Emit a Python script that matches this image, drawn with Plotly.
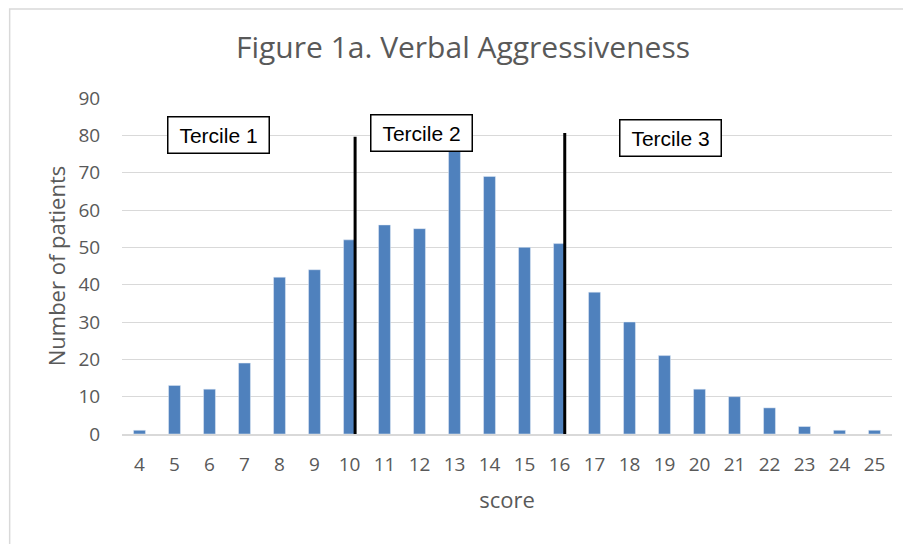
import plotly.graph_objects as go

scores = list(range(4, 26))
patients = [1, 13, 12, 19, 42, 44, 52, 56, 55, 80, 69, 50, 51, 38, 30, 21, 12, 10, 7, 2, 1, 1]
y_ticks = list(range(0, 100, 10))

# tercile cut lines (score position, bottom, top)
cut_lines = [(10.16, -0.8, 79.6), (16.15, 0, 80.6)]
# tercile labels (text, score position, value position)
terciles = [("Tercile 1", 6.25, 80.2), ("Tercile 2", 12.07, 80.5), ("Tercile 3", 19.18, 79.3)]

fig = go.Figure()
fig.add_trace(go.Bar(x=scores, y=patients, marker_color="#4f81bd", width=0.34))

for xc, y0, y1 in cut_lines:
    fig.add_shape(type="line", xref="x", yref="y", x0=xc, x1=xc, y0=y0, y1=y1,
                  line=dict(color="black", width=3), layer="above")

for txt, xc, yc in terciles:
    fig.add_annotation(x=xc, y=yc, xref="x", yref="y", text=txt, showarrow=False,
                       font=dict(family="Liberation Sans, Arial", size=21, color="black"),
                       bgcolor="white", bordercolor="black", borderwidth=1.5,
                       width=98, height=33, borderpad=1)

# outer chart border (right and bottom edges fall outside the view)
fig.add_shape(type="rect", xref="paper", yref="paper", x0=-0.1459, x1=1.08, y0=-0.40, y1=1.265,
              line=dict(color="#d9d9d9", width=1.5), layer="below")

fig.update_layout(
    width=911, height=544,
    margin=dict(l=113.5, r=26.5, t=90, b=118),
    paper_bgcolor="white", plot_bgcolor="white",
    showlegend=False,
    title=dict(text="Figure 1a. Verbal Aggressiveness", x=(463 - 8) / 911, xanchor="center",
               y=1 - 39 / 544, yanchor="middle",
               font=dict(family="Open Sans, Lato", size=30, color="#595959")),
    font=dict(family="Open Sans, Lato", color="#595959"),
    xaxis=dict(range=[3.5, 25.5], tickvals=scores, ticktext=[str(s) for s in scores],
               tickfont=dict(size=19, color="#595959"), showgrid=False, zeroline=False,
               showline=True, linecolor="#d9d9d9", linewidth=1.5,
               ticks="outside", ticklen=12, tickcolor="rgba(0,0,0,0)",
               title=dict(text="score", font=dict(size=22, color="#595959"), standoff=17)),
    yaxis=dict(range=[0, 90], tickvals=y_ticks, tickfont=dict(size=19, color="#595959"),
               showgrid=True, gridcolor="#d9d9d9", gridwidth=1, zeroline=False,
               ticks="outside", ticklen=17, tickcolor="rgba(0,0,0,0)",
               title=dict(text="Number of patients", font=dict(size=22, color="#595959"), standoff=6)),
)

fig.write_html("out.html")
